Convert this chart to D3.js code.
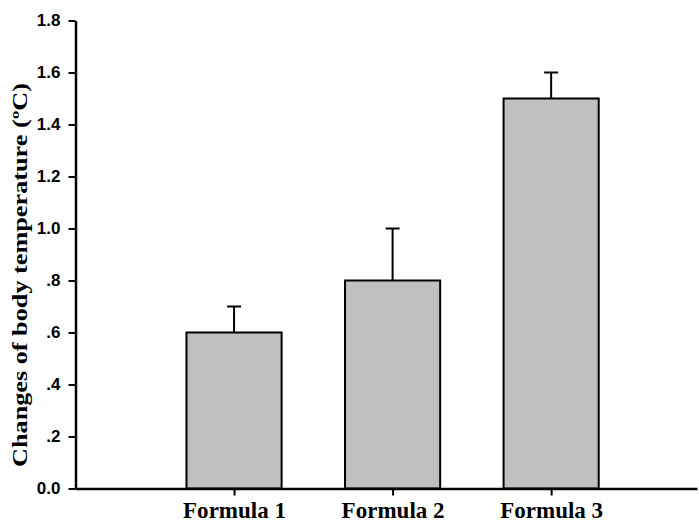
<!DOCTYPE html>
<html>
<head>
<meta charset="utf-8">
<script src="https://cdn.jsdelivr.net/npm/d3@7"></script>
<style>
  html, body { margin: 0; padding: 0; background: #fff; }
  svg { display: block; }
</style>
</head>
<body>
<script>
const categories = ["Formula 1", "Formula 2", "Formula 3"];
const values = [0.6, 0.8, 1.5];
const errors = [0.1, 0.2, 0.1];
const yTicks = [0, 0.2, 0.4, 0.6, 0.8, 1.0, 1.2, 1.4, 1.6, 1.8];
const yTickLabels = ["0.0", ".2", ".4", ".6", ".8", "1.0", "1.2", "1.4", "1.6", "1.8"];
const yTitle = "Changes of body temperature (ºC)";

const W = 699, H = 522;
const svg = d3.select("body").append("svg").attr("width", W).attr("height", H);

const x = d3.scaleLinear().domain([0, 3.92]).range([75.5, 697]);
const y = d3.scaleLinear().domain([0, 1.8]).range([488.5, 20.5]);
const barW = 0.6;

// bars
const bw = x(barW) - x(0);
svg.selectAll("rect.bar").data(values).enter().append("rect")
  .attr("class", "bar")
  .attr("x", (d, i) => x(i + 1) - bw / 2)
  .attr("y", d => y(d))
  .attr("width", bw)
  .attr("height", d => y(0) - y(d))
  .attr("fill", "#c0c0c0")
  .attr("stroke", "#000")
  .attr("stroke-width", 2);

// error bars
const capW = 14;
const eg = svg.selectAll("g.err").data(values).enter().append("g").attr("class", "err");
eg.append("line")
  .attr("x1", (d, i) => x(i + 1)).attr("x2", (d, i) => x(i + 1))
  .attr("y1", d => y(d)).attr("y2", (d, i) => y(d + errors[i]))
  .attr("stroke", "#000").attr("stroke-width", 2);
eg.append("line")
  .attr("x1", (d, i) => x(i + 1) - capW / 2).attr("x2", (d, i) => x(i + 1) + capW / 2)
  .attr("y1", (d, i) => y(d + errors[i])).attr("y2", (d, i) => y(d + errors[i]))
  .attr("stroke", "#000").attr("stroke-width", 2);

// y axis
const yAxis = d3.axisLeft(y).tickValues(yTicks)
  .tickFormat((d, i) => yTickLabels[i]).tickSize(7).tickSizeOuter(0).tickPadding(8);
const gy = svg.append("g").attr("transform", "translate(75.5,0)").call(yAxis);
gy.select(".domain").attr("stroke", "#000").attr("stroke-width", 2.5);
gy.selectAll(".tick line").attr("stroke", "#000").attr("stroke-width", 2);
gy.selectAll(".tick text")
  .attr("font-family", "Liberation Sans, Arial, sans-serif")
  .attr("font-weight", "bold").attr("font-size", 17).attr("fill", "#000");

// x axis
const xAxis = d3.axisBottom(x).tickValues([1, 2, 3])
  .tickFormat((d) => categories[d - 1]).tickSize(7).tickSizeOuter(0).tickPadding(6);
const gx = svg.append("g").attr("transform", "translate(0,488.5)").call(xAxis);
gx.select(".domain").attr("stroke", "#000").attr("stroke-width", 2.5);
gx.selectAll(".tick line").attr("stroke", "#000").attr("stroke-width", 2);
gx.selectAll(".tick text")
  .attr("font-family", "Liberation Serif, Times New Roman, serif")
  .attr("font-weight", "bold").attr("font-size", 23).attr("fill", "#000")
  .attr("textLength", 103).attr("lengthAdjust", "spacingAndGlyphs");

// y title
svg.append("text")
  .attr("transform", "translate(27,275) rotate(-90)")
  .attr("text-anchor", "middle")
  .attr("font-family", "Liberation Serif, Times New Roman, serif")
  .attr("font-weight", "bold").attr("font-size", 22)
  .attr("textLength", 384).attr("lengthAdjust", "spacingAndGlyphs")
  .attr("fill", "#000")
  .text(yTitle);
</script>
</body>
</html>
